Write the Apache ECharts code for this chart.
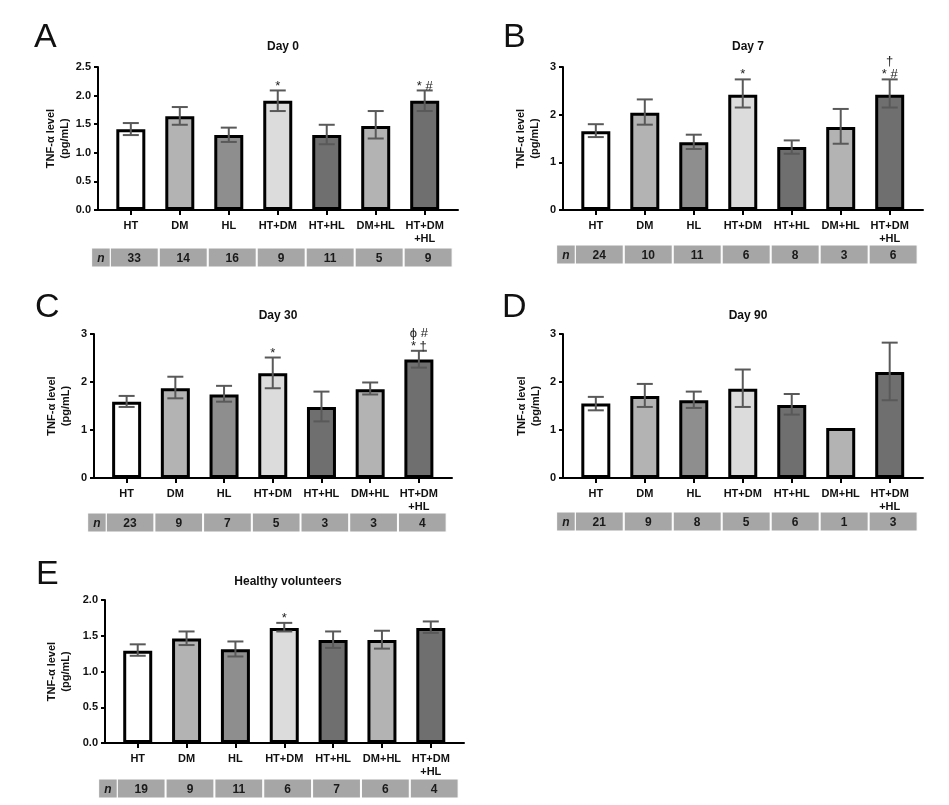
<!DOCTYPE html>
<html>
<head>
<meta charset="utf-8">
<title>TNF-α level</title>
<script src="https://cdn.jsdelivr.net/npm/echarts@6/dist/echarts.min.js"></script>
<style>
    html, body {margin: 0; padding: 0; background: #fff;}
    #chart {width: 949px; height: 805px;}
</style>
</head>
<body>
<div id="chart"></div>
<script>
"use strict";
var categories = ['HT', 'DM', 'HL', 'HT+DM', 'HT+HL', 'DM+HL', 'HT+DM\n+HL'];

var day0Mean = [1.41, 1.64, 1.31, 1.91, 1.31, 1.47, 1.91];
var day0Low = [1.31, 1.49, 1.19, 1.73, 1.15, 1.25, 1.73];
var day0High = [1.52, 1.80, 1.44, 2.09, 1.49, 1.73, 2.09];
var day0N = [33, 14, 16, 9, 11, 5, 9];
var day0Marks = ['', '', '', '*', '', '', '* #'];

var day7Mean = [1.65, 2.04, 1.42, 2.42, 1.32, 1.74, 2.42];
var day7Low = [1.53, 1.79, 1.28, 2.15, 1.18, 1.39, 2.15];
var day7High = [1.80, 2.32, 1.58, 2.74, 1.46, 2.12, 2.74];
var day7N = [24, 10, 11, 6, 8, 3, 6];
var day7Marks = ['', '', '', '*', '', '', '†\n* #'];

var day30Mean = [1.59, 1.87, 1.74, 2.18, 1.48, 1.85, 2.47];
var day30Low = [1.48, 1.66, 1.59, 1.87, 1.18, 1.74, 2.30];
var day30High = [1.71, 2.11, 1.92, 2.51, 1.80, 1.99, 2.65];
var day30N = [23, 9, 7, 5, 3, 3, 4];
var day30Marks = ['', '', '', '*', '', '', 'ϕ #\n* †'];

var day90Mean = [1.55, 1.71, 1.62, 1.86, 1.52, 1.04, 2.21];
var day90Low = [1.41, 1.48, 1.46, 1.48, 1.32, null, 1.62];
var day90High = [1.69, 1.96, 1.80, 2.26, 1.75, null, 2.82];
var day90N = [21, 9, 8, 5, 6, 1, 3];
var day90Marks = ['', '', '', '', '', '', ''];

var healthyMean = [1.29, 1.46, 1.31, 1.61, 1.44, 1.44, 1.61];
var healthyLow = [1.22, 1.37, 1.21, 1.56, 1.33, 1.32, 1.54];
var healthyHigh = [1.38, 1.56, 1.42, 1.68, 1.56, 1.57, 1.70];
var healthyN = [19, 9, 11, 6, 7, 6, 4];
var healthyMarks = ['', '', '', '*', '', '', ''];

// bar fills per group
var barColors = ['#ffffff', '#b3b3b3', '#8e8e8e', '#dcdcdc', '#6f6f6f', '#b3b3b3', '#6f6f6f'];
var FONT = '"Liberation Sans", Arial, sans-serif';

var panels = [
    {letter: 'A', lx: 29, ly: 16, title: 'Day 0', tx: 278, ty: 36, grid: {left: 98, top: 67, width: 360, height: 143},
        yMax: 2.5, yStep: 0.5, digits: 1, nameGap: 24, tableGap: 38,
        mean: day0Mean, low: day0Low, high: day0High, n: day0N, marks: day0Marks},
    {letter: 'B', lx: 498, ly: 16, title: 'Day 7', tx: 743, ty: 36, grid: {left: 563, top: 67, width: 360, height: 143},
        yMax: 3, yStep: 1, digits: 0, nameGap: 21, tableGap: 35,
        mean: day7Mean, low: day7Low, high: day7High, n: day7N, marks: day7Marks},
    {letter: 'C', lx: 30, ly: 286, title: 'Day 30', tx: 273, ty: 305, grid: {left: 94, top: 334, width: 358, height: 144},
        yMax: 3, yStep: 1, digits: 0, nameGap: 21, tableGap: 35,
        mean: day30Mean, low: day30Low, high: day30High, n: day30N, marks: day30Marks},
    {letter: 'D', lx: 497, ly: 286, title: 'Day 90', tx: 743, ty: 305, grid: {left: 563, top: 334, width: 360, height: 144},
        yMax: 3, yStep: 1, digits: 0, nameGap: 20, tableGap: 34,
        mean: day90Mean, low: day90Low, high: day90High, n: day90N, marks: day90Marks},
    {letter: 'E', lx: 31, ly: 553, title: 'Healthy volunteers', tx: 283, ty: 571, grid: {left: 105, top: 600, width: 359, height: 143},
        yMax: 2, yStep: 0.5, digits: 1, nameGap: 32, tableGap: 36,
        mean: healthyMean, low: healthyLow, high: healthyHigh, n: healthyN, marks: healthyMarks}
];

var idx = [0, 1, 2, 3, 4, 5, 6];
var option = {
    backgroundColor: '#fff',
    animation: false,
    textStyle: {fontFamily: FONT},
    title: [], grid: [], xAxis: [], yAxis: [], series: []
};

function errorBarRenderer(p) {
    return function (params, api) {
        var i = api.value(0);
        var lo = api.coord([i, api.value(1)]);
        var hi = api.coord([i, api.value(2)]);
        var cap = 8;
        var style = {stroke: '#595959', lineWidth: 2};
        var children = [
            {type: 'line', shape: {x1: lo[0], y1: lo[1], x2: hi[0], y2: hi[1]}, style: style},
            {type: 'line', shape: {x1: lo[0] - cap, y1: lo[1], x2: lo[0] + cap, y2: lo[1]}, style: style},
            {type: 'line', shape: {x1: hi[0] - cap, y1: hi[1], x2: hi[0] + cap, y2: hi[1]}, style: style}
        ];
        var mark = p.marks[i];
        if (mark) {
            children.push({
                type: 'text',
                style: {text: mark, x: hi[0], y: hi[1] + 2, align: 'center', verticalAlign: 'bottom',
                    fontSize: 13, lineHeight: 13, fontFamily: FONT, fill: '#222'}
            });
        }
        return {type: 'group', children: children};
    };
}

function tableRenderer(p) {
    return function (params, api) {
        var i = api.value(0);
        var x0 = api.coord([i - 0.42, 0])[0];
        var x1 = api.coord([i + 0.56, 0])[0];
        var top = api.coord([i, 0])[1] + p.tableGap;
        var h = 19;
        var children = [
            {type: 'rect', shape: {x: x0, y: top, width: x1 - x0, height: h},
                style: {fill: '#a6a6a6', stroke: '#ffffff', lineWidth: 1}},
            {type: 'text', style: {text: String(api.value(1)), x: (x0 + x1) / 2, y: top + h / 2 + 1,
                align: 'center', verticalAlign: 'middle', fontSize: 12, fontWeight: 'bold', fontFamily: FONT, fill: '#1a1a1a'}}
        ];
        if (i === 0) {
            var hx0 = api.coord([-0.8, 0])[0];
            children.push(
                {type: 'rect', shape: {x: hx0, y: top, width: x0 - hx0, height: h},
                    style: {fill: '#a6a6a6', stroke: '#ffffff', lineWidth: 1}},
                {type: 'text', style: {text: 'n', x: (hx0 + x0) / 2, y: top + h / 2 + 1,
                    align: 'center', verticalAlign: 'middle', fontSize: 12, fontWeight: 'bold', fontStyle: 'italic',
                    fontFamily: FONT, fill: '#1a1a1a'}}
            );
        }
        return {type: 'group', children: children};
    };
}

panels.forEach(function (p, k) {
    option.title.push({
        text: p.letter, left: p.lx, top: p.ly,
        textStyle: {fontSize: 34, fontWeight: 'normal', color: '#111', fontFamily: FONT}
    });
    option.title.push({
        text: p.title, left: p.tx, top: p.ty, textAlign: 'center',
        textStyle: {fontSize: 12, fontWeight: 'bold', color: '#111', fontFamily: FONT}
    });
    option.grid.push(p.grid);
    option.xAxis.push({
        type: 'value', gridIndex: k, min: -0.67, max: 6.68,
        splitLine: {show: false},
        axisLine: {onZero: false, lineStyle: {color: '#000', width: 2}},
        axisTick: {customValues: idx, length: 5, lineStyle: {color: '#000', width: 2}},
        axisLabel: {
            customValues: idx, margin: 9, fontSize: 11, fontWeight: 'bold', color: '#111', lineHeight: 13,
            fontFamily: FONT,
            formatter: function (v) { return categories[Math.round(v)]; }
        }
    });
    option.yAxis.push({
        type: 'value', gridIndex: k, min: 0, max: p.yMax, interval: p.yStep,
        name: 'TNF-α level\n(pg/mL)', nameLocation: 'middle', nameGap: p.nameGap, nameRotate: 90,
        nameTextStyle: {fontSize: 11, fontWeight: 'bold', color: '#111', lineHeight: 14, fontFamily: FONT},
        splitLine: {show: false},
        axisLine: {show: true, onZero: false, lineStyle: {color: '#000', width: 2}},
        axisTick: {show: true, length: 4, lineStyle: {color: '#000', width: 2}},
        axisLabel: {
            margin: 7, fontSize: 11, fontWeight: 'bold', color: '#111', fontFamily: FONT,
            formatter: function (v) { return v.toFixed(p.digits); }
        }
    });
    option.series.push({
        type: 'bar', xAxisIndex: k, yAxisIndex: k, barWidth: 29,
        data: p.mean.map(function (v, i) {
            return {value: [i, v], itemStyle: {color: barColors[i]}};
        }),
        itemStyle: {borderColor: '#000', borderWidth: 3}
    });
    var errData = [];
    p.mean.forEach(function (v, i) {
        if (p.low[i] !== null) errData.push([i, p.low[i], p.high[i]]);
    });
    option.series.push({
        type: 'custom', xAxisIndex: k, yAxisIndex: k, z: 5, clip: false,
        encode: {x: 0, y: [1, 2]},
        renderItem: errorBarRenderer(p),
        data: errData
    });
    option.series.push({
        type: 'custom', xAxisIndex: k, yAxisIndex: k, z: 5, clip: false,
        encode: {x: 0, y: 1},
        renderItem: tableRenderer(p),
        data: p.n.map(function (v, i) { return [i, v]; })
    });
});

var chart = echarts.init(document.getElementById('chart'));
chart.setOption(option);
</script>
</body>
</html>
